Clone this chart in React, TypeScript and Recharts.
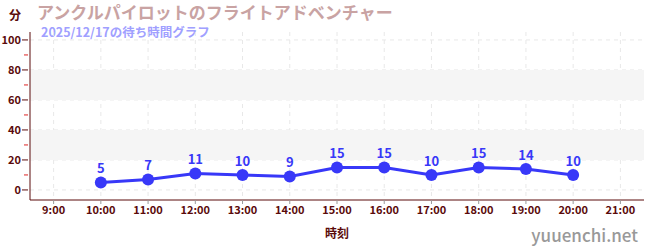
import { CartesianGrid, LabelList, Line, LineChart, ReferenceArea, XAxis, YAxis } from 'recharts';

const hours = [10, 11, 12, 13, 14, 15, 16, 17, 18, 19, 20];
const waits = [5, 7, 11, 10, 9, 15, 15, 10, 15, 14, 10];
const xTicks = [9, 10, 11, 12, 13, 14, 15, 16, 17, 18, 19, 20, 21];
const yMajor = [0, 20, 40, 60, 80, 100];
const yMinor = [10, 30, 50, 70, 90];
const bands = [[20, 40], [60, 80]];

const data = hours.map((h, i) => ({ h, v: waits[i] }));

const FONT = '"Noto Sans CJK JP", "Noto Sans", sans-serif';
const AXIS = '#5a0a0a';
const BLUE = '#3838f8';

function YTick(props: any) {
  const { x, y, payload } = props;
  const minor = yMinor.includes(payload.value);
  if (minor) {
    return <line x1={x + 2} x2={x + 6} y1={y} y2={y} stroke="#d22" strokeWidth={1} />;
  }
  return (
    <g>
      <line x1={x} x2={x + 6} y1={y} y2={y} stroke={AXIS} strokeWidth={1} />
      <text x={x - 1} y={y} dy={4} textAnchor="end" fontSize={11} fontWeight={600} fill={AXIS} fontFamily={FONT}>
        {payload.value}
      </text>
    </g>
  );
}

export default function App() {
  return (
    <div style={{ position: 'absolute', left: 0, top: 0, width: 650, height: 250, background: '#fff', fontFamily: FONT }}>
      <div style={{ position: 'absolute', left: 9, top: 6, fontSize: 12, fontWeight: 700, color: AXIS }}>分</div>
      <div style={{ position: 'absolute', left: 37, top: 2, fontSize: 17, lineHeight: '20px', fontWeight: 700, color: '#c9a3a3', whiteSpace: 'nowrap' }}>
        アンクルパイロットのフライトアドベンチャー
      </div>
      <div style={{ position: 'absolute', left: 41, top: 24, fontSize: 12.5, lineHeight: '15px', fontWeight: 600, color: '#a0a0ff', whiteSpace: 'nowrap' }}>
        2025/12/17の待ち時間グラフ
      </div>
      <LineChart width={650} height={250} data={data} margin={{ top: 32, right: 6, bottom: 0, left: 0 }}>
        {bands.map(([a, b]) => (
          <ReferenceArea key={a} y1={a} y2={b} fill="#f5f5f5" fillOpacity={1} stroke="none" />
        ))}
        <CartesianGrid
          stroke="#e8e8e8"
          strokeDasharray="4 4"
          horizontalValues={yMajor}
          verticalValues={xTicks}
        />
        <XAxis
          dataKey="h"
          type="number"
          domain={[8.5, 21.5]}
          ticks={xTicks}
          tickFormatter={(h: number) => `${h}:00`}
          interval={0}
          height={50}
          stroke={AXIS}
          tickLine={{ stroke: '#999' }}
          tickSize={4}
          tick={{ fontSize: 11, fontWeight: 600, fill: AXIS, fontFamily: FONT }}
          label={{ value: '時刻', position: 'insideBottom', offset: 12, fontSize: 12, fontWeight: 700, fill: AXIS, fontFamily: FONT }}
        />
        <YAxis
          type="number"
          domain={[-6.7, 105.3]}
          ticks={[...yMajor, ...yMinor].sort((a, b) => a - b)}
          interval={0}
          allowDataOverflow
          width={30}
          stroke={AXIS}
          tickLine={false}
          tickSize={6}
          tick={<YTick />}
        />
        <Line
          dataKey="v"
          stroke={BLUE}
          strokeWidth={3}
          dot={{ r: 6, fill: BLUE, stroke: BLUE, strokeWidth: 0 }}
          isAnimationActive={false}
        >
          <LabelList dataKey="v" position="top" offset={9} fill={BLUE} fontSize={13} fontWeight={700} fontFamily={FONT} />
        </Line>
      </LineChart>
      <div style={{ position: 'absolute', right: 12, top: 222, fontSize: 17, fontWeight: 500, color: '#999', fontFamily: FONT }}>
        yuuenchi.net
      </div>
    </div>
  );
}
